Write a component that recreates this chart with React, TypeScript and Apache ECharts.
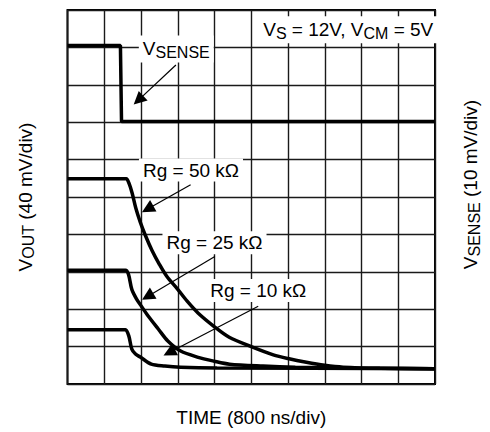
import React, { useEffect, useRef } from "react";
import * as echarts from "echarts";

const FONT = "'Liberation Sans', Arial, Helvetica, sans-serif";

// Horizontal: time in divisions (800 ns/div). Vertical: screen divisions.
const TIME_MIN = 0;
const TIME_MAX = 10;
const DIV_MIN = 0;
const DIV_MAX = 10;

const VSENSE_T = [0, 1.44, 1.47, 10];
const VSENSE_V = [9.05, 9.05, 7.02, 7.02];

const RG50_T = [0, 1.5, 1.6, 1.68, 1.76, 1.86, 1.98, 2.12, 2.3, 2.5, 2.7, 3.0, 3.25, 3.55, 4.0, 4.4, 5.0, 5.6, 6.0, 6.5, 7.0, 7.5, 8.5, 10];
const RG50_V = [5.49, 5.49, 5.49, 5.35, 5.1, 4.7, 4.33, 3.97, 3.57, 3.2, 2.88, 2.53, 2.22, 1.9, 1.53, 1.25, 1.0, 0.78, 0.68, 0.58, 0.5, 0.45, 0.42, 0.41];

const RG25_T = [0, 1.5, 1.58, 1.66, 1.75, 1.88, 2.01, 2.2, 2.47, 2.73, 3.08, 3.53, 3.99, 4.41, 5.32, 6.2, 7.53, 10];
const RG25_V = [3.04, 3.04, 3.04, 2.93, 2.53, 2.27, 2.08, 1.81, 1.47, 1.15, 0.88, 0.72, 0.61, 0.53, 0.48, 0.45, 0.43, 0.41];

const RG10_T = [0, 1.5, 1.58, 1.67, 1.75, 1.85, 1.98, 2.28, 2.65, 3.08, 4.07, 10];
const RG10_V = [1.45, 1.45, 1.45, 1.28, 0.93, 0.8, 0.72, 0.53, 0.48, 0.45, 0.43, 0.41];

// Annotation texts (rich-text markup) and anchors in data units
const NOTE_TEXT = [
  "{m|V}{s|SENSE}",
  "{m|Rg = 50 kΩ}",
  "{m|Rg = 25 kΩ}",
  "{m|Rg = 10 kΩ}",
  "{m|V}{s|S}{m| = 12V, V}{s|CM}{m| = 5V}",
];
const NOTE_AT = [
  [2.96, 8.96],
  [3.36, 5.72],
  [4.0, 3.78],
  [5.19, 2.5],
  [7.64, 9.47],
];
const ARROW_FROM = [
  [2.95, 8.53],
  [3.35, 5.33],
  [4.01, 3.41],
  [5.19, 2.08],
];
const ARROW_TO = [
  [1.93, 7.59],
  [2.18, 4.68],
  [2.18, 2.34],
  [2.77, 0.84],
];

const zip = (xs: number[], ys: number[]) => xs.map((x, i) => [x, ys[i]]);

const rich = {
  m: { fontSize: 19, fontFamily: FONT, color: "#000" },
  s: { fontSize: 16, fontFamily: FONT, color: "#000", padding: [7, 0, 0, 0] },
};

export default function App() {
  const ref = useRef<HTMLDivElement>(null);

  useEffect(() => {
    if (!ref.current) return;
    const chart = echarts.init(ref.current, null, { renderer: "svg" });

    const traceStyle = { color: "#000", width: 3.5 };
    const baseAxis = {
      type: "value" as const,
      axisLine: { show: false },
      axisTick: { show: false },
      axisLabel: { show: false },
    };

    const option: any = {
      animation: false,
      backgroundColor: "#fff",
      grid: {
        left: 67.5,
        top: 10,
        right: 47.5,
        bottom: 47,
        show: true,
        borderColor: "#000",
        borderWidth: 2,
      },
      xAxis: {
        ...baseAxis,
        min: TIME_MIN,
        max: TIME_MAX,
        interval: 1,
        name: "TIME (800 ns/div)",
        nameLocation: "middle",
        nameGap: 24,
        nameTextStyle: { fontSize: 19, fontFamily: FONT, color: "#000" },
        splitLine: { show: true, lineStyle: { color: "#1a1a1a", width: 1.4 } },
      },
      yAxis: [
        {
          ...baseAxis,
          min: DIV_MIN,
          max: DIV_MAX,
          interval: 1,
          position: "left",
          name: "{m|V}{s|OUT}{m| (40 mV/div)}",
          nameLocation: "middle",
          nameGap: 31,
          nameTextStyle: { rich },
          splitLine: { show: true, lineStyle: { color: "#1a1a1a", width: 1.4 } },
        },
        {
          ...baseAxis,
          min: DIV_MIN,
          max: DIV_MAX,
          interval: 1,
          position: "right",
          name: "{m|V}{s|SENSE}{m| (10 mV/div)}",
          nameLocation: "middle",
          nameGap: 24,
          nameTextStyle: { rich, padding: [0, 0, 0, 25] },
          splitLine: { show: false },
        },
      ],
      series: [
        {
          name: "VSENSE",
          type: "line",
          data: zip(VSENSE_T, VSENSE_V),
          showSymbol: false,
          lineStyle: traceStyle,
          silent: true,
          z: 3,
          markLine: {
            silent: true,
            symbol: ["none", "triangle"],
            symbolSize: 13,
            label: { show: false },
            lineStyle: { color: "#000", width: 1.2, type: "solid" },
            emphasis: { disabled: true },
            data: ARROW_FROM.map((f, i) => [
              { coord: f },
              { coord: ARROW_TO[i] },
            ]),
            z: 4,
          },
          markPoint: {
            silent: true,
            symbol: "rect",
            symbolSize: 1,
            itemStyle: { color: "rgba(0,0,0,0)" },
            label: {
              show: true,
              position: "inside",
              backgroundColor: "#fff",
              padding: [2, 4, 2, 4],
              rich,
            },
            data: NOTE_AT.map((c, i) => ({
              coord: c,
              label: { formatter: NOTE_TEXT[i] },
            })),
            z: 5,
          },
        },
        {
          name: "Rg = 50 kΩ",
          type: "line",
          data: zip(RG50_T, RG50_V),
          showSymbol: false,
          smooth: 0.3,
          lineStyle: traceStyle,
          silent: true,
          z: 3,
        },
        {
          name: "Rg = 25 kΩ",
          type: "line",
          data: zip(RG25_T, RG25_V),
          showSymbol: false,
          smooth: 0.3,
          lineStyle: traceStyle,
          silent: true,
          z: 3,
        },
        {
          name: "Rg = 10 kΩ",
          type: "line",
          data: zip(RG10_T, RG10_V),
          showSymbol: false,
          smooth: 0.3,
          lineStyle: traceStyle,
          silent: true,
          z: 3,
        },
      ],
    };

    chart.setOption(option);
    return () => chart.dispose();
  }, []);

  return (
    <div
      ref={ref}
      style={{ position: "fixed", left: 0, top: 0, width: 490, height: 432, background: "#fff" }}
    />
  );
}
